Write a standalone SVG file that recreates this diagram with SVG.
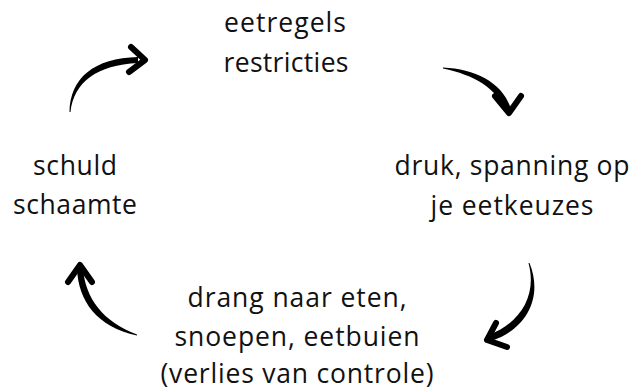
<svg xmlns="http://www.w3.org/2000/svg" width="638" height="392" viewBox="0 0 638 392">
<style>
  .t { font-family: "Open Sans", "Noto Sans", "Liberation Sans", sans-serif; font-size: 26.5px; fill: #111; text-anchor: middle; }
  .shaft { fill: #000; }
  .head { fill: none; stroke: #000; stroke-width: 6; stroke-linecap: round; stroke-linejoin: round; }
</style>
<rect width="638" height="392" fill="#fff"/>
<g id="node-eetregels">
  <text class="t" x="285" y="32" textLength="122">eetregels</text>
  <text class="t" x="286" y="72" textLength="125">restricties</text>
</g>
<g id="node-druk">
  <text class="t" x="512" y="175" textLength="235">druk, spanning op</text>
  <text class="t" x="512" y="215" textLength="163">je eetkeuzes</text>
</g>
<g id="node-drang">
  <text class="t" x="297" y="307" textLength="219">drang naar eten,</text>
  <text class="t" x="297" y="346" textLength="245">snoepen, eetbuien</text>
  <text class="t" x="297" y="383" textLength="273">(verlies van controle)</text>
</g>
<g id="node-schuld">
  <text class="t" x="75" y="175" textLength="84">schuld</text>
  <text class="t" x="75" y="214" textLength="124">schaamte</text>
</g>
<g id="connectors">
  <path class="shaft" d="M69.5,112 C70,78 94,58 138,57 L138,63 C97,65 74,82 70.5,112 Z"/>
  <path class="head" d="M131,47 L145,60 L129,72"/>
  <path class="shaft" d="M443,67.5 C476,69 503,83 511,109 L505,111 C497,88 474,75 443,68.5 Z"/>
  <path class="head" d="M495,96 L509,113 L521,96"/>
  <path class="shaft" d="M529.5,263 C543,296 528,329 491,341 L489,335 C522,322 537,294 528.5,263 Z"/>
  <path class="head" d="M496,323 L487,340 L507,347"/>
  <path class="shaft" d="M137,335.5 C97,327 78,301 77,268 L83,268 C85,298 103,322 137,334.5 Z"/>
  <path class="head" d="M68,282 L80,265 L92,282"/>
</g>
</svg>
